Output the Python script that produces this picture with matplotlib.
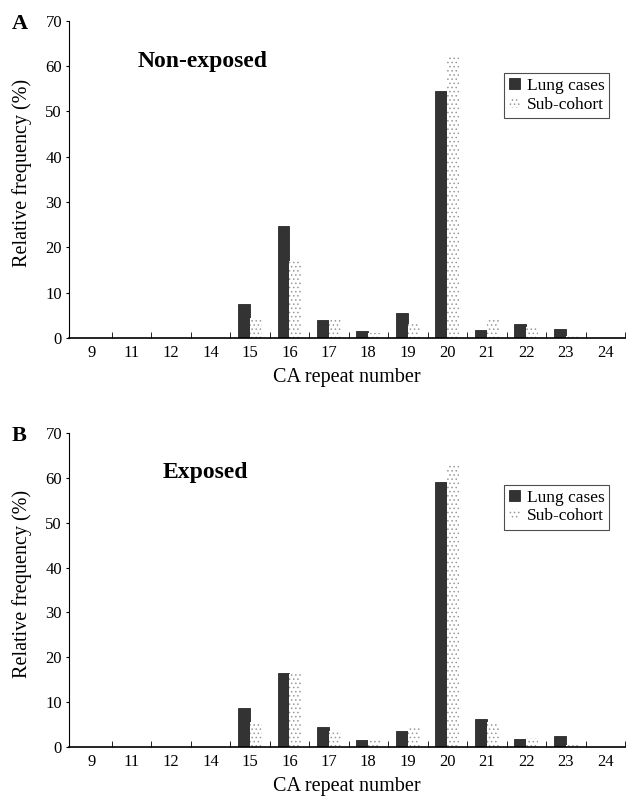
import numpy as np
import matplotlib.pyplot as plt

repeats = ["9", "11", "12", "14", "15", "16", "17", "18", "19", "20", "21", "22", "23", "24"]

nonexp_lung = [0, 0, 0, 0, 7.5, 24.7, 4.0, 1.5, 5.5, 54.5, 1.8, 3.0, 2.0, 0]
nonexp_sub = [0, 0, 0, 0, 4.5, 17.0, 4.0, 1.2, 3.0, 62.5, 4.5, 2.5, 0.4, 0]

exp_lung = [0, 0, 0, 0, 8.7, 16.5, 4.5, 1.5, 3.5, 59.0, 6.2, 1.8, 2.5, 0]
exp_sub = [0, 0, 0, 0, 5.5, 16.3, 3.5, 1.5, 4.2, 63.0, 5.5, 2.0, 0.4, 0]

plt.rcParams['font.family'] = ['Liberation Serif', 'DejaVu Serif']
plt.rcParams['hatch.linewidth'] = 0.6

fig = plt.figure(figsize=(6.29, 7.99), dpi=100)


def panel(rect, lung, sub, title, tx, letter):
    ax = fig.add_axes(rect)
    x = np.arange(len(repeats))
    w = 0.3
    ax.bar(x - w / 2, lung, w, color="#333333", edgecolor="#111111",
           linewidth=0.5, label="Lung cases")
    ax.bar(x + w / 2, sub, w, color="white", edgecolor="#9a9a9a",
           hatch="....", linewidth=0, label="Sub-cohort")
    ax.set_xlim(-0.58, 13.43)
    ax.set_ylim(0, 70)
    ax.set_yticks(range(0, 71, 10))
    ax.set_xticks(x)
    ax.set_xticklabels(repeats)
    ax.set_xticks(np.arange(len(repeats)) + 0.5, minor=True)
    ax.tick_params(axis="x", which="major", length=0, labelsize=12, pad=5)
    ax.tick_params(axis="x", which="minor", length=4, direction="in")
    ax.tick_params(axis="y", length=2, labelsize=12, pad=3)
    for s in ["top", "right"]:
        ax.spines[s].set_visible(False)
    ax.spines["left"].set_linewidth(0.8)
    ax.spines["bottom"].set_linewidth(1.2)
    ax.set_ylabel("Relative frequency (%)", fontsize=14.5)
    ax.yaxis.set_label_coords(-0.067, 0.52)
    ax.set_xlabel("CA repeat number", fontsize=14.5)
    ax.xaxis.set_label_coords(0.5, -0.095)
    ax.text(tx, 0.873, title, transform=ax.transAxes, fontsize=17,
            fontweight="bold", va="center")
    ax.text(-0.103, 0.99, letter, transform=ax.transAxes, fontsize=16,
            fontweight="bold", va="center")
    leg = ax.legend(loc="upper right", bbox_to_anchor=(0.972, 0.836),
                    borderaxespad=0, fontsize=12.5, frameon=True, fancybox=False,
                    edgecolor="#222222", handlelength=0.6, handleheight=0.6,
                    handletextpad=0.4, borderpad=0.3, labelspacing=0.15)
    leg.get_frame().set_linewidth(0.8)
    return ax


panel([0.1097, 0.577, 0.884, 0.397], nonexp_lung, nonexp_sub, "Non-exposed", 0.124, "A")
panel([0.1097, 0.065, 0.884, 0.393], exp_lung, exp_sub, "Exposed", 0.169, "B")

fig.savefig("out.png", dpi=100)
